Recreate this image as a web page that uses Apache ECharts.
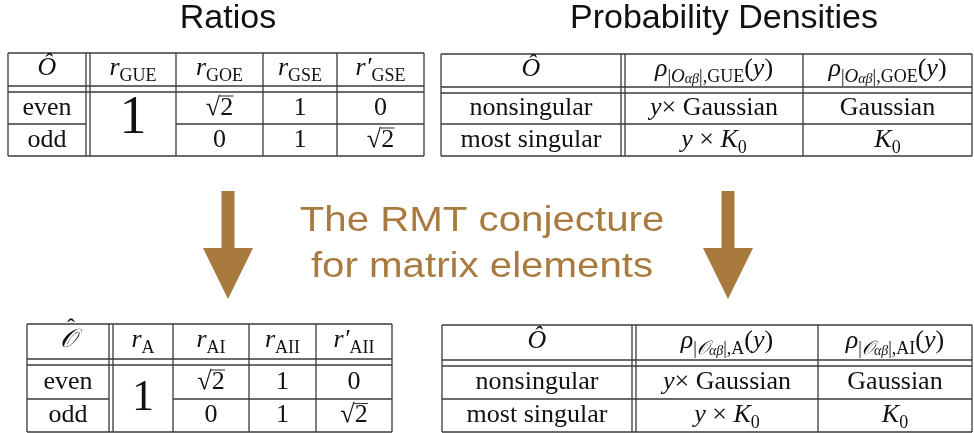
<!DOCTYPE html>
<html>
<head>
<meta charset="utf-8">
<script src="https://cdn.jsdelivr.net/npm/echarts@6/dist/echarts.min.js"></script>
<style>
  html, body { margin: 0; padding: 0; background: #fff; }
  #main { width: 974px; height: 433px; }
</style>
</head>
<body>
<div id="main"></div>
<script>
// ---- table contents ----
const titles = ['Ratios', 'Probability Densities']
const conjecture = ['The RMT conjecture', 'for matrix elements']
const ratioRows = ['even', 'odd']
const densityRows = ['nonsingular', 'most singular']
const ratioHeadsTop = ['{i|r}{s|GUE}', '{i|r}{s|GOE}', '{i|r}{s|GSE}', '{i|r\u2032}{s|GSE}']
const ratioHeadsBottom = ['{i|r}{s|A}', '{i|r}{s|AI}', '{i|r}{s|AII}', '{i|r\u2032}{s|AII}']
const ratioMerged = '1'
const ratioCols = [['\u221A2', '0'], ['1', '1'], ['0', '\u221A2']]
const densityEnsTop = ['GUE', 'GOE']
const densityEnsBottom = ['A', 'AI']
const densityCols = [['{i|y}\u00D7 Gaussian', '{i|y} \u00D7 {i|K}{s|0}'], ['Gaussian', '{i|K}{s|0}']]
const opPlain = '{i|\u00D4}'
const opCal = '{i|\uD835\uDCAA}'

const SERIF = '"Liberation Serif", "DejaVu Serif", serif'
const SANS = '"Liberation Sans", Arial, sans-serif'
const LINE = '#3a3a3a'
const BROWN = '#A87A3E'

const rich = {
  i: { fontFamily: SERIF, fontStyle: 'italic', fontSize: 26, lineHeight: 34 },
  s: { fontFamily: SERIF, fontSize: 18, lineHeight: 19, verticalAlign: 'bottom' },
  si: { fontFamily: SERIF, fontStyle: 'italic', fontSize: 19, lineHeight: 19, verticalAlign: 'bottom' },
  ss: { fontFamily: SERIF, fontStyle: 'italic', fontSize: 14, lineHeight: 8, verticalAlign: 'bottom' }
}

function densityHead (ens, cal) {
  return '{i|\u03C1}{s||}{si|' + (cal ? '\uD835\uDCAA' : 'O') + '}{ss|\u03B1\u03B2}{s||,' + ens + '}({i|y})'
}

function seg (x1, y1, x2, y2, w) {
  return { type: 'line', silent: true, shape: { x1: x1, y1: y1, x2: x2, y2: y2 }, style: { stroke: LINE, lineWidth: w || 1.3 } }
}

function cellText (x, y, text, size) {
  let els = [{
    type: 'text', x: x, y: y, silent: true,
    style: {
      text: text, fill: '#111', fontFamily: SERIF, fontSize: size || 26, lineHeight: 34,
      align: 'center', verticalAlign: 'middle', rich: rich
    }
  }]
  // overbar of the square root
  if (text.indexOf('\u221A') >= 0) els.push(seg(x, y - 12, x + 14, y - 12, 1.1))
  return els
}

function opLabel (x, y, cal) {
  let els = cellText(x, y, cal ? opCal : opPlain)
  if (cal) {
    els.push({
      type: 'text', x: x + 3, y: y - 12, silent: true,
      style: { text: '\u02C6', fill: '#111', fontFamily: SERIF, fontSize: 24, align: 'center', verticalAlign: 'middle' }
    })
  }
  return els
}

// xs: [left, dbl1, dbl2, ...cols, right]; ys: [top, head, head2, mid, bottom]
function grid (xs, ys, merged) {
  let els = []
  let right = xs[xs.length - 1]
  xs.forEach(x => els.push(seg(x, ys[0], x, ys[4])))
  ;[0, 1, 2, 4].forEach(k => els.push(seg(xs[0], ys[k], right, ys[k])))
  if (merged) {
    els.push(seg(xs[0], ys[3], xs[1], ys[3]))
    els.push(seg(xs[3], ys[3], right, ys[3]))
  } else {
    els.push(seg(xs[0], ys[3], right, ys[3]))
  }
  return els
}

function ratioTable (xs, ys, cal, heads, bigSize, bigY) {
  let els = grid(xs, ys, true)
  let hy = (ys[0] + ys[1]) / 2 - 1
  let r1 = (ys[2] + ys[3]) / 2
  let r2 = (ys[3] + ys[4]) / 2
  els = els.concat(opLabel((xs[0] + xs[1]) / 2, hy, cal))
  ratioRows.forEach((r, k) => { els = els.concat(cellText((xs[0] + xs[1]) / 2, k ? r2 : r1, r)) })
  heads.forEach((h, k) => { els = els.concat(cellText((xs[k + 2] + xs[k + 3]) / 2, hy, h)) })
  els = els.concat(cellText((xs[2] + xs[3]) / 2, bigY, ratioMerged, bigSize))
  ratioCols.forEach((col, c) => {
    let cx = (xs[c + 3] + xs[c + 4]) / 2
    col.forEach((v, k) => { els = els.concat(cellText(cx, k ? r2 : r1, v)) })
  })
  return els
}

function densityTable (xs, ys, ens, cal) {
  let els = grid(xs, ys, false)
  let hy = (ys[0] + ys[1]) / 2 - 1
  let r1 = (ys[2] + ys[3]) / 2
  let r2 = (ys[3] + ys[4]) / 2
  els = els.concat(opLabel((xs[0] + xs[1]) / 2, hy, false))
  densityRows.forEach((r, k) => { els = els.concat(cellText((xs[0] + xs[1]) / 2, k ? r2 : r1, r)) })
  ens.forEach((e, k) => { els = els.concat(cellText((xs[k + 2] + xs[k + 3]) / 2, hy, densityHead(e, cal))) })
  densityCols.forEach((col, c) => {
    let cx = (xs[c + 2] + xs[c + 3]) / 2
    col.forEach((v, k) => { els = els.concat(cellText(cx, k ? r2 : r1, v)) })
  })
  return els
}

function arrow (cx) {
  return {
    type: 'polygon', silent: true,
    shape: { points: [[cx - 6.5, 191], [cx + 6.5, 191], [cx + 6.5, 248], [cx + 25, 248], [cx, 299], [cx - 25, 248], [cx - 6.5, 248]] },
    style: { fill: BROWN }
  }
}

function label (x, y, text, color, size, sx) {
  return {
    type: 'text', x: x, y: y, scaleX: sx || 1, silent: true,
    style: { text: text, fill: color, fontFamily: SANS, fontSize: size, align: 'center', verticalAlign: 'middle' }
  }
}

let elements = [].concat(
  ratioTable([8, 86, 90, 176, 263, 337, 424], [53, 86, 92, 124, 156], false, ratioHeadsTop, 54, 119),
  densityTable([441, 621, 625, 803, 972], [54, 87, 93, 124, 156], densityEnsTop, false),
  ratioTable([27, 109, 113, 173, 249, 316, 392], [324, 359, 365, 399, 432], true, ratioHeadsBottom, 44, 398),
  densityTable([442, 632, 636, 818, 972], [325, 360, 366, 399, 432], densityEnsBottom, true),
  [
    label(228, 19, titles[0], '#111', 34),
    label(724, 19, titles[1], '#111', 34),
    label(482, 221, conjecture[0], BROWN, 35, 1.15),
    label(482, 267, conjecture[1], BROWN, 35, 1.15),
    arrow(228),
    arrow(728)
  ]
)

let chart = echarts.init(document.getElementById('main'))
chart.setOption({
  backgroundColor: '#fff',
  animation: false,
  graphic: { elements: elements }
})
</script>
</body>
</html>
